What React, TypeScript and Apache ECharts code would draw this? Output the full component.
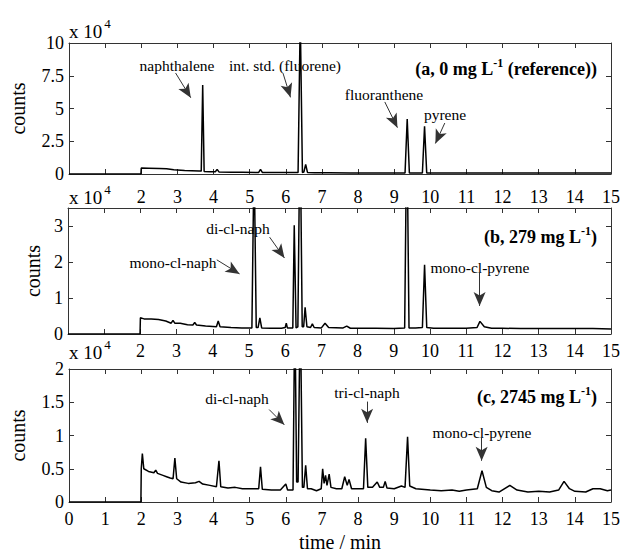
import React, { useEffect, useRef } from "react";
import * as echarts from "echarts";

// time (min) vs counts (x 10^4)
const panelA: [number, number][] = [
  [0, 0], [1.99, 0], [2.0, 0.45], [2.2, 0.44], [2.5, 0.42], [2.7, 0.4], [2.9, 0.32], [3.0, 0.3],
  [3.2, 0.26], [3.4, 0.24], [3.6, 0.22], [3.66, 0.22], [3.7, 6.8], [3.74, 0.2], [3.9, 0.18],
  [4.05, 0.17], [4.1, 0.35], [4.15, 0.16], [4.5, 0.14], [4.8, 0.13], [5.25, 0.12], [5.3, 0.35],
  [5.35, 0.12], [5.7, 0.12], [6.0, 0.11], [6.1, 0.12], [6.34, 0.12], [6.4, 12], [6.46, 0.12],
  [6.5, 0.15], [6.55, 0.74], [6.6, 0.12], [6.8, 0.1], [7.2, 0.1], [7.8, 0.08], [8.5, 0.08],
  [9.0, 0.08], [9.3, 0.08], [9.36, 4.2], [9.42, 0.08], [9.78, 0.08], [9.84, 3.65], [9.9, 0.08],
  [10.5, 0.08], [11, 0.07], [12, 0.07], [13, 0.07], [14, 0.07], [15, 0.07],
];

const panelB: [number, number][] = [
  [0, 0], [1.99, 0], [2.0, 0.45], [2.1, 0.42], [2.3, 0.42], [2.5, 0.4], [2.7, 0.36], [2.85, 0.3],
  [2.9, 0.38], [2.95, 0.3], [3.1, 0.3], [3.3, 0.26], [3.45, 0.25], [3.5, 0.32], [3.55, 0.25],
  [3.8, 0.22], [4.1, 0.2], [4.15, 0.36], [4.2, 0.2], [4.5, 0.18], [4.8, 0.17], [5.08, 0.17],
  [5.14, 5], [5.2, 0.18], [5.25, 0.18], [5.3, 0.45], [5.35, 0.17], [5.6, 0.16], [5.9, 0.16],
  [6.0, 0.18], [6.03, 0.3], [6.06, 0.17], [6.21, 0.17], [6.25, 3.02], [6.3, 0.17], [6.35, 0.2],
  [6.41, 6], [6.47, 0.2], [6.51, 0.2], [6.55, 0.74], [6.6, 0.2], [6.7, 0.18], [6.75, 0.28],
  [6.8, 0.18], [7.0, 0.17], [7.1, 0.3], [7.2, 0.18], [7.6, 0.17], [7.7, 0.22], [7.8, 0.16],
  [8.5, 0.16], [9.0, 0.15], [9.3, 0.17], [9.36, 6], [9.42, 0.17], [9.6, 0.17], [9.79, 0.18],
  [9.85, 1.92], [9.91, 0.18], [10.1, 0.16], [10.5, 0.16], [11, 0.16], [11.3, 0.18], [11.38, 0.35],
  [11.5, 0.2], [11.7, 0.16], [12, 0.16], [12.5, 0.15], [13, 0.15], [13.5, 0.15], [14, 0.15],
  [14.5, 0.15], [15, 0.14],
];

const panelC: [number, number][] = [
  [0, 0], [1.99, 0], [2.0, 0.5], [2.03, 0.73], [2.07, 0.5], [2.2, 0.46], [2.35, 0.44], [2.4, 0.48],
  [2.45, 0.43], [2.6, 0.4], [2.7, 0.38], [2.8, 0.36], [2.88, 0.35], [2.93, 0.66], [2.98, 0.35],
  [3.1, 0.3], [3.3, 0.28], [3.5, 0.29], [3.6, 0.31], [3.7, 0.27], [3.9, 0.25], [4.08, 0.23],
  [4.15, 0.62], [4.2, 0.23], [4.4, 0.21], [4.6, 0.22], [4.8, 0.2], [5.0, 0.2], [5.2, 0.2],
  [5.25, 0.2], [5.3, 0.53], [5.35, 0.19], [5.6, 0.18], [5.85, 0.18], [6.0, 0.27], [6.05, 0.18],
  [6.2, 0.18], [6.25, 3], [6.3, 0.3], [6.34, 0.3], [6.4, 3], [6.46, 0.22], [6.5, 0.22],
  [6.55, 0.55], [6.6, 0.2], [6.7, 0.2], [6.85, 0.17], [6.98, 0.2], [7.02, 0.5], [7.06, 0.28],
  [7.1, 0.4], [7.14, 0.25], [7.2, 0.42], [7.25, 0.22], [7.4, 0.2], [7.55, 0.2], [7.63, 0.38],
  [7.7, 0.25], [7.75, 0.34], [7.82, 0.2], [8.0, 0.2], [8.15, 0.2], [8.21, 0.96], [8.27, 0.22],
  [8.4, 0.22], [8.53, 0.3], [8.6, 0.22], [8.7, 0.22], [8.75, 0.31], [8.8, 0.21], [9.0, 0.2],
  [9.2, 0.24], [9.3, 0.22], [9.37, 0.98], [9.43, 0.24], [9.6, 0.2], [10.0, 0.18], [10.3, 0.17],
  [10.6, 0.18], [10.8, 0.16], [11.0, 0.18], [11.3, 0.2], [11.43, 0.47], [11.55, 0.22],
  [11.7, 0.17], [11.9, 0.15], [12.2, 0.25], [12.4, 0.18], [12.7, 0.15], [13.0, 0.16],
  [13.3, 0.15], [13.55, 0.18], [13.7, 0.31], [13.85, 0.2], [14.0, 0.16], [14.3, 0.15],
  [14.5, 0.2], [14.7, 0.2], [14.9, 0.17], [15, 0.18],
];

const yMax = [10, 3.5, 2];
const yInterval = [2.5, 1, 0.5];
const panelLabels = [
  ["(a, 0 mg L", " (reference))"],
  ["(b, 279 mg L", ")"],
  ["(c, 2745 mg L", ")"],
];

// arrows: [startTime, startCounts, endTime, endCounts]
const arrowsA = [
  [2.95, 7.71, 3.37, 5.82],
  [5.93, 7.63, 6.13, 5.85],
  [8.74, 5.5, 9.09, 3.54],
  [10.4, 3.89, 10.14, 2.33],
];
const arrowsB = [
  [5.57, 2.69, 5.98, 2.11],
  [4.11, 2.06, 4.74, 1.67],
  [11.37, 1.72, 11.37, 0.78],
];
const arrowsC = [
  [5.54, 1.39, 5.96, 1.16],
  [8.25, 1.51, 8.25, 1.19],
  [11.42, 0.98, 11.42, 0.62],
];

const FONT = "'Liberation Serif', 'Times New Roman', Times, serif";
const AXIS_COLOR = "#333";

const grids = [
  { left: 68, top: 43, width: 544, height: 131 },
  { left: 68, top: 208, width: 544, height: 126 },
  { left: 68, top: 369, width: 544, height: 135 },
];

function App() {
  const ref = useRef<HTMLDivElement>(null);

  useEffect(() => {
    if (!ref.current) return;
    const chart = echarts.init(ref.current, undefined, { renderer: "svg" });

    const xAxis: any[] = [];
    const yAxis: any[] = [];
    const labelMargins = [14, 8, 8];
    grids.forEach((_, i) => {
      xAxis.push({
        type: "value",
        gridIndex: i,
        position: "bottom",
        min: 0,
        max: 15,
        interval: 1,
        axisLine: { show: true, onZero: false, lineStyle: { color: AXIS_COLOR, width: 1 } },
        axisTick: { show: true, inside: true, length: 5, lineStyle: { color: AXIS_COLOR } },
        splitLine: { show: false },
        axisLabel: {
          show: true,
          margin: labelMargins[i],
          color: "#000",
          fontFamily: FONT,
          fontSize: 18,
          formatter: (v: number) => (i < 2 && v < 2 ? "" : String(v)),
        },
        name: i === 2 ? "time / min" : "",
        nameLocation: "middle",
        nameGap: 30,
        nameTextStyle: { color: "#000", fontFamily: FONT, fontSize: 20 },
      });
      xAxis.push({
        type: "value",
        gridIndex: i,
        position: "top",
        min: 0,
        max: 15,
        interval: 1,
        axisLine: { show: true, onZero: false, lineStyle: { color: AXIS_COLOR, width: 1 } },
        axisTick: { show: true, inside: true, length: 5, lineStyle: { color: AXIS_COLOR } },
        splitLine: { show: false },
        axisLabel: { show: false },
      });
      yAxis.push({
        type: "value",
        gridIndex: i,
        position: "left",
        min: 0,
        max: yMax[i],
        interval: yInterval[i],
        axisLine: { show: true, onZero: false, lineStyle: { color: AXIS_COLOR, width: 1 } },
        axisTick: { show: true, inside: true, length: 5, lineStyle: { color: AXIS_COLOR } },
        splitLine: { show: false },
        axisLabel: {
          show: true,
          margin: 5,
          color: "#000",
          fontFamily: FONT,
          fontSize: 18,
          formatter: (v: number) => (v > yMax[i] - 1e-9 && i === 1 ? "" : String(v)),
        },
        name: "counts",
        nameLocation: "middle",
        nameGap: i === 1 ? 24 : 41,
        nameTextStyle: { color: "#000", fontFamily: FONT, fontSize: 20 },
      });
      yAxis.push({
        type: "value",
        gridIndex: i,
        position: "right",
        min: 0,
        max: yMax[i],
        interval: yInterval[i],
        axisLine: { show: true, onZero: false, lineStyle: { color: AXIS_COLOR, width: 1 } },
        axisTick: { show: true, inside: true, length: 5, lineStyle: { color: AXIS_COLOR } },
        splitLine: { show: false },
        axisLabel: { show: false },
      });
    });

    const arrowSets = [arrowsA, arrowsB, arrowsC];
    const datasets = [panelA, panelB, panelC];
    const series = datasets.map((d, i) => ({
      type: "line",
      xAxisIndex: 2 * i,
      yAxisIndex: 2 * i,
      data: d,
      symbol: "none",
      clip: true,
      lineStyle: { color: "#000", width: 1.5 },
      itemStyle: { color: "#000" },
      silent: true,
      markLine: {
        silent: true,
        symbol: ["none", "arrow"],
        symbolSize: [9, 14],
        label: { show: false },
        lineStyle: { color: "#333", width: 1, type: "solid" },
        itemStyle: { color: "#000" },
        data: arrowSets[i].map((a) => [
          { coord: [a[0], a[1]], symbol: "none" },
          { coord: [a[2], a[3]], symbol: "arrow" },
        ]),
      },
    }));

    const ann = (text: string, x: number, y: number, extra: any = {}) => ({
      type: "text",
      x,
      y,
      silent: true,
      style: {
        text,
        fill: "#000",
        font: `15.5px ${FONT}`,
        align: "center",
        verticalAlign: "middle",
        ...extra,
      },
    });

    const powerLabel = (yMid: number) => ({
      type: "text",
      x: 69,
      y: yMid,
      silent: true,
      style: {
        text: "{b|x 10}{s|4}",
        align: "left",
        verticalAlign: "middle",
        rich: {
          b: { fontFamily: FONT, fontSize: 19, fill: "#000", lineHeight: 28 },
          s: { fontFamily: FONT, fontSize: 13, fill: "#000", verticalAlign: "top", padding: [0, 0, 0, 2] },
        },
      },
    });

    const boldLabel = (parts: string[], y: number) => ({
      type: "text",
      x: 597,
      y,
      silent: true,
      style: {
        text: `{a|${parts[0]}}{s|-1}{a|${parts[1]}}`,
        align: "right",
        verticalAlign: "middle",
        rich: {
          a: { fontFamily: FONT, fontSize: 18, fontWeight: "bold", fill: "#000", lineHeight: 24 },
          s: { fontFamily: FONT, fontSize: 12, fontWeight: "bold", fill: "#000", verticalAlign: "top" },
        },
      },
    });

    const graphic = [
      powerLabel(31),
      powerLabel(197),
      powerLabel(352),
      ann("naphthalene", 177, 65),
      ann("int. std. (fluorene)", 285, 65),
      ann("fluoranthene", 384, 94),
      ann("pyrene", 445, 114),
      boldLabel(panelLabels[0], 69),
      ann("di-cl-naph", 238, 228),
      ann("mono-cl-naph", 173, 262),
      ann("mono-cl-pyrene", 480, 267),
      boldLabel(panelLabels[1], 237),
      ann("di-cl-naph", 237, 398),
      ann("tri-cl-naph", 367, 392),
      ann("mono-cl-pyrene", 482, 432),
      boldLabel(panelLabels[2], 397),
    ];

    chart.setOption({
      animation: false,
      backgroundColor: "#fff",
      grid: grids,
      xAxis,
      yAxis,
      series,
      graphic,
    });

    return () => chart.dispose();
  }, []);

  return (
    <div
      ref={ref}
      style={{ position: "absolute", left: 0, top: 0, width: 623, height: 553, background: "#fff" }}
    />
  );
}

export default App;
